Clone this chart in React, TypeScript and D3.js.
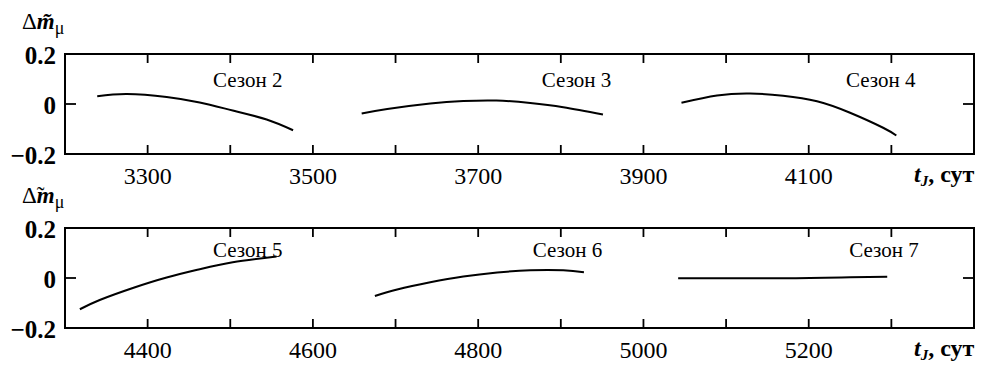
import React from "react";
import * as d3 from "d3";

// ---- data ----
const season2T = [3239, 3275, 3323, 3363, 3403, 3444, 3476];
const season2V = [0.031, 0.04, 0.028, 0.006, -0.026, -0.062, -0.105];
const season3T = [3559, 3590, 3642, 3682, 3722, 3763, 3803, 3851];
const season3V = [-0.038, -0.02, 0.002, 0.012, 0.014, 0.004, -0.013, -0.042];
const season4T = [3946, 3989, 4029, 4069, 4110, 4150, 4190, 4206];
const season4V = [0.005, 0.034, 0.042, 0.033, 0.011, -0.035, -0.095, -0.126];
const season5T = [4318, 4342, 4383, 4423, 4463, 4503, 4556];
const season5V = [-0.125, -0.088, -0.039, 0.002, 0.035, 0.063, 0.086];
const season6T = [4675, 4702, 4742, 4782, 4823, 4863, 4903, 4928];
const season6V = [-0.072, -0.046, -0.017, 0.006, 0.022, 0.031, 0.031, 0.023];
const season7T = [5042, 5169, 5250, 5295];
const season7V = [-0.001, -0.001, 0.003, 0.005];

const topDomain = [3200, 4300];
const bottomDomain = [4300, 5400];
const topTicks = [3300, 3400, 3500, 3600, 3700, 3800, 3900, 4000, 4100, 4200];
const topTickLabels = [3300, 3500, 3700, 3900, 4100];
const bottomTicks = [4400, 4500, 4600, 4700, 4800, 4900, 5000, 5100, 5200, 5300];
const bottomTickLabels = [4400, 4600, 4800, 5000, 5200];
const yTickLabels = [0.2, 0, -0.2];

const topSeasons = [
  { name: "Сезон 2", t: season2T, v: season2V, lt: 3379, lv: 0.07 },
  { name: "Сезон 3", t: season3T, v: season3V, lt: 3777, lv: 0.068 },
  { name: "Сезон 4", t: season4T, v: season4V, lt: 4145, lv: 0.068 },
];
const bottomSeasons = [
  { name: "Сезон 5", t: season5T, v: season5V, lt: 4479, lv: 0.085 },
  { name: "Сезон 6", t: season6T, v: season6V, lt: 4866, lv: 0.085 },
  { name: "Сезон 7", t: season7T, v: season7V, lt: 5249, lv: 0.085 },
];

const SERIF = { fontFamily: "Liberation Serif" };

function fmtY(v: number) {
  if (v === 0) return "0";
  return (v < 0 ? "\u2212" : "") + Math.abs(v).toFixed(1);
}

function Panel(props: {
  top: number;
  domain: number[];
  ticks: number[];
  tickLabels: number[];
  seasons: { name: string; t: number[]; v: number[]; lt: number; lv: number }[];
  tildeOnDelta?: boolean;
}) {
  const { top, domain, ticks, tickLabels, seasons } = props;
  const left = 65;
  const right = 974;
  const bottom = top + 100;
  const x = d3.scaleLinear().domain(domain).range([left, right]);
  const y = d3.scaleLinear().domain([-0.2, 0.2]).range([bottom, top]);
  const line = d3
    .line<[number, number]>()
    .x((d) => x(d[0]))
    .y((d) => y(d[1]))
    .curve(d3.curveNatural);
  const tl = 9;
  return (
    <g>
      {/* y-axis title */}
      <text x={22} y={top - 25} fontSize={23} fill="#000" style={SERIF}>
        <tspan>{props.tildeOnDelta ? "\u0394\u0303" : "\u0394"}</tspan>
        <tspan fontStyle="italic" fontWeight="bold">
          {props.tildeOnDelta ? "m" : "m\u0303"}
        </tspan>
        <tspan fontSize={18} dy={5}>
          μ
        </tspan>
      </text>
      {/* frame */}
      <rect
        x={left}
        y={top}
        width={right - left}
        height={bottom - top}
        fill="none"
        stroke="#000"
        strokeWidth={2}
      />
      {/* x ticks */}
      {ticks.map((t) => (
        <g key={t}>
          <line x1={x(t)} x2={x(t)} y1={top} y2={top + tl} stroke="#000" strokeWidth={1.8} />
          <line x1={x(t)} x2={x(t)} y1={bottom} y2={bottom - tl} stroke="#000" strokeWidth={1.8} />
        </g>
      ))}
      {tickLabels.map((t) => (
        <text
          key={t}
          x={x(t)}
          y={bottom + 30}
          textAnchor="middle"
          fontSize={24}
          fill="#000"
          style={SERIF}
        >
          {t}
        </text>
      ))}
      {/* y ticks at 0 */}
      <line x1={left} x2={left + 11} y1={y(0)} y2={y(0)} stroke="#000" strokeWidth={1.8} />
      <line x1={right} x2={right - 11} y1={y(0)} y2={y(0)} stroke="#000" strokeWidth={1.8} />
      {yTickLabels.map((v) => (
        <text
          key={v}
          x={56}
          y={y(v) + 10}
          textAnchor="end"
          fontSize={25}
          fontWeight="bold"
          fill="#000"
          style={SERIF}
        >
          {fmtY(v)}
        </text>
      ))}
      {/* x-axis title */}
      <text x={914} y={bottom + 28} fontSize={24} fontWeight="bold" fill="#000" style={SERIF}>
        <tspan fontStyle="italic">t</tspan>
        <tspan fontStyle="italic" fontSize={15} dy={4}>
          J
        </tspan>
        <tspan dy={-4}>, сут</tspan>
      </text>
      {/* curves */}
      {seasons.map((s) => (
        <g key={s.name}>
          <path
            d={line(s.t.map((t, i) => [t, s.v[i]] as [number, number])) || ""}
            fill="none"
            stroke="#000"
            strokeWidth={2}
          />
          <text x={x(s.lt)} y={y(s.lv)} fontSize={21} fill="#000" style={SERIF}>
            {s.name}
          </text>
        </g>
      ))}
    </g>
  );
}

export default function App() {
  return (
    <svg
      width={982}
      height={367}
      style={{ position: "absolute", left: 0, top: 0, background: "#fff" }}
    >
      <rect x={0} y={0} width={982} height={367} fill="#fff" />
      <Panel
        top={54}
        domain={topDomain}
        ticks={topTicks}
        tickLabels={topTickLabels}
        seasons={topSeasons}
      />
      <Panel
        top={228}
        domain={bottomDomain}
        ticks={bottomTicks}
        tickLabels={bottomTickLabels}
        seasons={bottomSeasons}
        tildeOnDelta
      />
    </svg>
  );
}
